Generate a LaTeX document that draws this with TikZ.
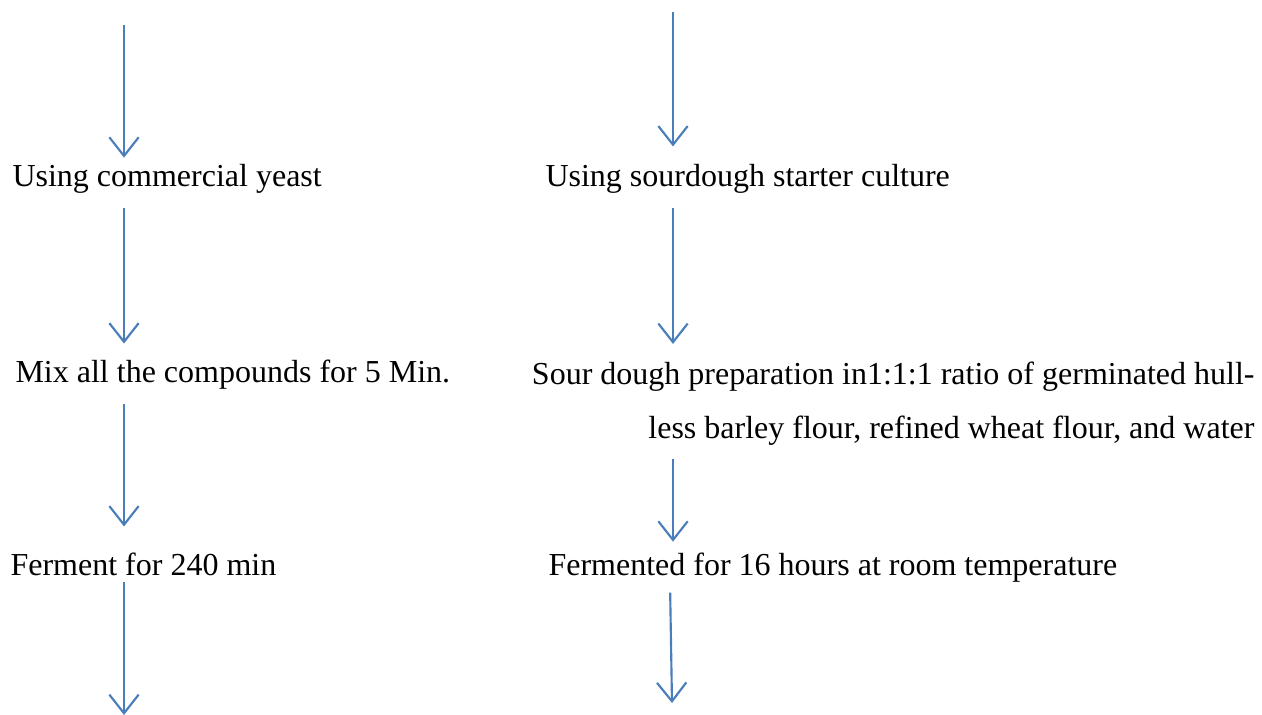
\documentclass[tikz,border=0pt]{standalone}
\usepackage{fontspec}
\setmainfont{Liberation Serif}
\usetikzlibrary{arrows.meta,calc}
\definecolor{flowblue}{HTML}{4A7EBB}
\tikzset{
  every node/.style={text=black},
  stage/.style={inner xsep=0pt, inner ysep=0pt, text height=8.2pt,
    text depth=2.6pt, font=\fontsize{12}{20.25}\selectfont},
  flow/.style={-{Straight Barb[length=7pt,width=11pt]}, draw=flowblue,
    line width=.8pt}
}
\begin{document}
\begin{tikzpicture}[x=0.375pt,y=-0.375pt]
\useasboundingbox (0,0) rectangle (1262,715);

% free ends of the two columns
\coordinate (topL) at (124,25);
\coordinate (topR) at (673,12);
\coordinate (endL) at (124,715);
\coordinate (endR) at (672,703);

% commercial yeast route
\node[stage, anchor=base west] (yeast) at (12,187) {Using commercial yeast};
\node[stage, anchor=base west] (mixL) at (15,383) {Mix all the compounds for 5 Min.};
\node[stage, anchor=base west] (fermL) at (10,575) {Ferment for 240 min};

% sourdough route
\node[stage, anchor=base west] (starter) at (545,187) {Using sourdough starter culture};
\node[stage, anchor=north east, text height=, text depth=, align=right] (sourdough) at (1255,361)
  {Sour dough preparation in1:1:1 ratio of germinated hull-\\
   less barley flour, refined wheat flour, and water};
\node[stage, anchor=base west] (fermR) at (548,575) {Fermented for 16 hours at room temperature};

\draw[flow, shorten >=2.6pt] (topL) -- (topL |- yeast.north);
\draw[flow, shorten <=5.2pt, shorten >=6.4pt] (topL |- yeast.south) -- (topL |- mixL.north);
\draw[flow, shorten <=5.2pt, shorten >=9.8pt] (topL |- mixL.south) -- (topL |- fermL.north);
\draw[flow] (topL |- fermL.south) -- (endL);

\draw[flow, shorten >=6.8pt] (topR) -- (topR |- starter.north);
\draw[flow, shorten <=5.2pt, shorten >=6.4pt] (topR |- starter.south) -- (topR |- sourdough.north);
\draw[flow, shorten <=5.2pt, shorten >=4.1pt] (topR |- sourdough.south) -- (topR |- fermR.north);
\draw[flow, shorten <=3.8pt] ($(fermR.south -| endR)+(-2,0)$) -- (endR);

\end{tikzpicture}
\end{document}
